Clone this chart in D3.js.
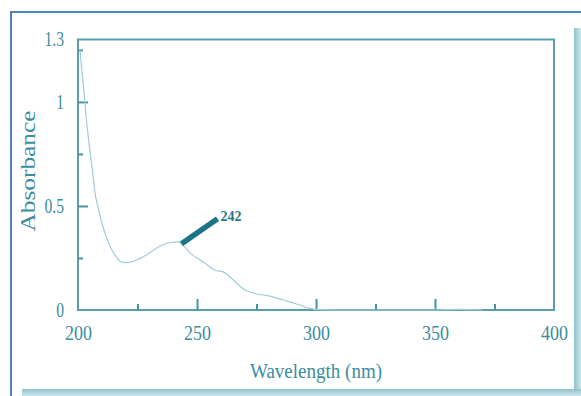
<!DOCTYPE html>
<html><head><meta charset="utf-8">
<script src="https://cdn.jsdelivr.net/npm/d3@7"></script>
<style>
html,body{margin:0;padding:0;background:#fff;}
svg{display:block;}
text{font-family:"Liberation Serif","Times New Roman",serif;}
</style></head>
<body>
<svg id="c" width="581" height="396"></svg>
<script>
// ---- data ----
const wavelength = [200.8,202.5,203.5,204.9,206.3,207.0,208.4,210.5,213.3,216.1,218.2,220.0,222.4,225.9,230.1,234.3,237.8,242.0,244.1,247.4,250.4,252.6,257.6,261.0,265.3,270.2,275.1,280.7,286.3,291.9,297.5,300.3,310,330,350,360,370];
const absorbance = [1.25,1.05,0.919,0.775,0.647,0.574,0.494,0.399,0.311,0.255,0.231,0.228,0.231,0.247,0.274,0.306,0.322,0.327,0.311,0.271,0.247,0.231,0.191,0.183,0.144,0.096,0.077,0.067,0.048,0.029,0.008,0.002,0.0,0.0,0.0,0.003,0.0];
const xTickLabels = [200,250,300,350,400];
const xMajorTicks = [250,300,350];
const xMinorTicks = [225,275,325,375];
const yTickLabels = [0,0.5,1,1.3];
const yMajorTicks = [0.5,1];
const yMinorTicks = [0.25,0.75,1.25];
const peakLabel = "242";
const peakPoint = [243.5, 0.318];
const xTitle = "Wavelength (nm)";
const yTitle = "Absorbance";

// ---- layout ----
const svg = d3.select("#c");
const L = 78, R = 554, T = 39.5, B = 310;
const axisColor = "#4693a6";
const textColor = "#3a8c9f";
const x = d3.scaleLinear().domain([200,400]).range([L,R]);
const y = d3.scaleLinear().domain([0,1.3]).range([B,T]);

// page decoration: blue frame and teal shadow
const defs = svg.append("defs");
const gR = defs.append("linearGradient").attr("id","gr").attr("x1","0").attr("x2","1").attr("y1","0").attr("y2","0");
gR.append("stop").attr("offset","0").attr("stop-color","#8fc2cc");
gR.append("stop").attr("offset","1").attr("stop-color","#cfe6ea");
const gB = defs.append("linearGradient").attr("id","gb").attr("x1","0").attr("x2","0").attr("y1","0").attr("y2","1");
gB.append("stop").attr("offset","0").attr("stop-color","#8fc2cc");
gB.append("stop").attr("offset","1").attr("stop-color","#cfe6ea");
svg.append("rect").attr("x",574).attr("y",28).attr("width",7).attr("height",368).attr("fill","url(#gr)");
svg.append("rect").attr("x",22).attr("y",389).attr("width",559).attr("height",7).attr("fill","url(#gb)");
svg.append("path").attr("d","M11,396 V12 H581").attr("fill","none").attr("stroke","#4f83c1").attr("stroke-width",2);

// plot frame
svg.append("rect").attr("x",L).attr("y",T).attr("width",R-L).attr("height",B-T)
  .attr("fill","none").attr("stroke",axisColor).attr("stroke-width",2).attr("opacity",0.9);

function styleAxis(g){
  g.select(".domain").remove();
  g.selectAll(".tick line").attr("stroke",axisColor).attr("stroke-width",2);
  g.selectAll(".tick text").attr("fill",textColor).attr("font-size",20)
    .attr("font-family","'Liberation Serif',serif");
}

// x axis: labels
const gxl = svg.append("g").attr("transform",`translate(0,${B})`)
  .call(d3.axisBottom(x).tickValues(xTickLabels).tickSize(0).tickPadding(16).tickFormat(d3.format("d")));
styleAxis(gxl);
gxl.selectAll(".tick text").each(function(){
  const w = this.getComputedTextLength();
  d3.select(this).attr("textLength", w*0.9).attr("lengthAdjust","spacingAndGlyphs");
});
svg.append("g").attr("transform",`translate(0,${B})`)
  .call(d3.axisBottom(x).tickValues(xMajorTicks).tickSize(-11).tickFormat("")).call(styleAxis);
svg.append("g").attr("transform",`translate(0,${B})`)
  .call(d3.axisBottom(x).tickValues(xMinorTicks).tickSize(-6).tickFormat("")).call(styleAxis);

// y axis
const gyl = svg.append("g").attr("transform",`translate(${L},0)`)
  .call(d3.axisLeft(y).tickValues(yTickLabels).tickSize(0).tickPadding(14).tickFormat(d=>String(d)));
styleAxis(gyl);
gyl.selectAll(".tick text").each(function(){
  const w = this.getComputedTextLength();
  d3.select(this).attr("textLength", w*0.78).attr("lengthAdjust","spacingAndGlyphs");
});
svg.append("g").attr("transform",`translate(${L},0)`)
  .call(d3.axisLeft(y).tickValues(yMajorTicks).tickSize(-10).tickFormat("")).call(styleAxis);
svg.append("g").attr("transform",`translate(${L},0)`)
  .call(d3.axisLeft(y).tickValues(yMinorTicks).tickSize(-5).tickFormat("")).call(styleAxis);

// curve
const line = d3.line().x((d,i)=>x(wavelength[i])).y((d,i)=>y(absorbance[i])).curve(d3.curveMonotoneX);
svg.append("path").datum(absorbance).attr("d",line)
  .attr("fill","none").attr("stroke","#9fcdd6").attr("stroke-width",1.2);

// peak annotation
const px = x(peakPoint[0]), py = y(peakPoint[1]);
svg.append("line").attr("x1",px).attr("y1",py).attr("x2",px+36).attr("y2",py-25)
  .attr("stroke","#1d7488").attr("stroke-width",5.5).attr("stroke-linecap","butt");
svg.append("text").attr("x",px+39).attr("y",py-23).text(peakLabel)
  .attr("fill","#2a7587").attr("font-size",14).attr("font-weight","bold");

// titles
svg.append("text").attr("x",(L+R)/2).attr("y",378).attr("text-anchor","middle")
  .attr("fill",textColor).attr("font-size",20).attr("textLength",132).attr("lengthAdjust","spacingAndGlyphs")
  .text(xTitle);
svg.append("text").attr("transform","translate(35,171) rotate(-90)").attr("text-anchor","middle")
  .attr("fill",textColor).attr("font-size",20).attr("textLength",121).attr("lengthAdjust","spacingAndGlyphs")
  .text(yTitle);
</script>
</body></html>
